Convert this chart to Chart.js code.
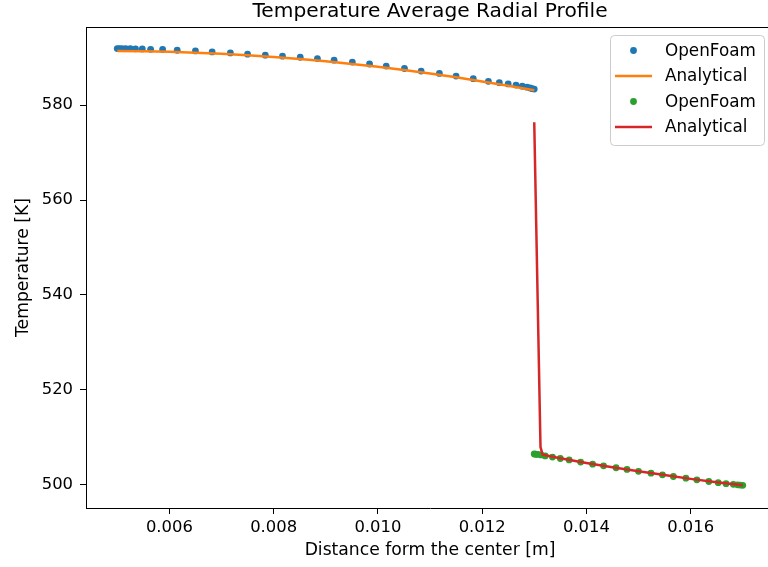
<!DOCTYPE html>
<html>
<head>
<meta charset="utf-8">
<script src="https://cdn.jsdelivr.net/npm/chart.js@4/dist/chart.umd.min.js"></script>
<style>
  html, body { margin: 0; padding: 0; background: #fff; overflow: hidden; width: 768px; height: 567px; }
  #wrap { position: absolute; left: 0; top: 0; width: 768px; height: 567px; overflow: hidden; }
  #c { position: absolute; left: 0; top: 0; }
</style>
</head>
<body>
<div id="wrap"><canvas id="c" width="780" height="567"></canvas></div>
<script>
// ---- data ----
const blueX = [0.00500, 0.00504, 0.00509, 0.00516, 0.00525, 0.00535, 0.00548, 0.00564, 0.00587, 0.00615,
               0.00650, 0.00682, 0.00717, 0.00750, 0.00784, 0.00817, 0.00851, 0.00884, 0.00916, 0.00951,
               0.00984, 0.01016, 0.01051, 0.01083, 0.01118, 0.01150, 0.01183, 0.01212, 0.01233, 0.01250,
               0.01265, 0.01277, 0.01286, 0.01292, 0.01296, 0.01300];
const blueT = [591.95, 591.95, 591.95, 591.93, 591.92, 591.90, 591.88, 591.80, 591.75, 591.60,
               591.45, 591.24, 591.03, 590.76, 590.55, 590.34, 590.12, 589.85, 589.50, 589.10,
               588.70, 588.25, 587.75, 587.20, 586.70, 586.15, 585.60, 585.05, 584.75, 584.50,
               584.25, 584.00, 583.80, 583.65, 583.50, 583.40];

const orangeX = [0.0050, 0.0055, 0.0060, 0.0065, 0.0070, 0.0075, 0.0080, 0.0085, 0.0090,
                 0.0095, 0.0100, 0.0105, 0.0110, 0.0115, 0.0120, 0.0125, 0.0130];
const orangeT = [591.43, 591.41, 591.28, 591.09, 590.84, 590.53, 590.17, 589.74, 589.26,
                 588.71, 588.10, 587.42, 586.69, 585.88, 585.02, 584.11, 583.16];

const greenX = [0.01300, 0.01303, 0.01307, 0.01313, 0.01321, 0.01335, 0.01350, 0.01367, 0.01389, 0.01412,
                0.01433, 0.01457, 0.01478, 0.01500, 0.01524, 0.01546, 0.01567, 0.01591, 0.01612, 0.01635,
                0.01653, 0.01668, 0.01682, 0.01690, 0.01695, 0.01700];
const greenT = [506.45, 506.40, 506.35, 506.25, 506.05, 505.80, 505.50, 505.20, 504.75, 504.30,
                503.95, 503.55, 503.20, 502.80, 502.40, 502.05, 501.70, 501.35, 501.00, 500.65,
                500.40, 500.20, 500.05, 499.95, 499.90, 499.85];

const redX = [0.01300, 0.01312, 0.01316, 0.0135, 0.0140, 0.0145, 0.0150, 0.0155, 0.0160, 0.0165, 0.0170];
const redT = [576.4, 507.9, 506.3, 505.55, 504.55, 503.65, 502.80, 502.00, 501.20, 500.50, 499.85];

const xTicks = [0.006, 0.008, 0.010, 0.012, 0.014, 0.016];
const yTicks = [500, 520, 540, 560, 580];
const xRange = [0.0044, 0.0176];
const yRange = [495.06, 596.5];

const titleText = 'Temperature Average Radial Profile';
const xLabel = 'Distance form the center [m]';
const yLabel = 'Temperature [K]';
const seriesNames = ['OpenFoam', 'Analytical', 'OpenFoam', 'Analytical'];

// ---- build ----
const zip = (xs, ys) => xs.map((x, i) => ({ x: x, y: ys[i] }));
const FONT = 'DejaVu Sans';

const frameAndText = {
  id: 'frameAndText',
  afterDraw(chart) {
    const ctx = chart.ctx;
    const a = chart.chartArea;
    ctx.save();
    // top spine (the right spine falls outside the cropped picture)
    ctx.strokeStyle = '#000';
    ctx.lineWidth = 1;
    ctx.beginPath();
    ctx.moveTo(a.left, a.top + 0.5);
    ctx.lineTo(a.right, a.top + 0.5);
    ctx.stroke();
    // title
    ctx.fillStyle = '#000';
    ctx.font = '20.2px "' + FONT + '"';
    ctx.textAlign = 'center';
    ctx.textBaseline = 'alphabetic';
    ctx.fillText(titleText, (a.left + a.right) / 2, 17);
    // x axis label
    ctx.font = '17.2px "' + FONT + '"';
    ctx.textBaseline = 'middle';
    ctx.fillText(xLabel, (a.left + a.right) / 2, 551);
    // legend
    const bx = 610, by = 35, bw = 154, bh = 110, r = 4;
    ctx.globalAlpha = 0.8;
    ctx.fillStyle = '#fff';
    ctx.beginPath();
    ctx.roundRect(bx, by, bw, bh, r);
    ctx.fill();
    ctx.globalAlpha = 1;
    ctx.strokeStyle = '#cccccc';
    ctx.lineWidth = 1;
    ctx.beginPath();
    ctx.roundRect(bx + 0.5, by + 0.5, bw, bh, r);
    ctx.stroke();
    const rows = [50.5, 76, 101.5, 127];
    chart.data.datasets.forEach((ds, i) => {
      const y = rows[i];
      if (ds.showLine) {
        ctx.strokeStyle = ds.borderColor;
        ctx.lineWidth = 2.5;
        ctx.beginPath();
        ctx.moveTo(615, y);
        ctx.lineTo(652, y);
        ctx.stroke();
      } else {
        ctx.fillStyle = ds.backgroundColor;
        ctx.beginPath();
        ctx.arc(633.5, y, 3.4, 0, Math.PI * 2);
        ctx.fill();
      }
      ctx.fillStyle = '#000';
      ctx.font = '16.8px "' + FONT + '"';
      ctx.textAlign = 'left';
      ctx.textBaseline = 'middle';
      ctx.fillText(ds.label, 665, y + 1);
    });
    ctx.restore();
  }
};

const pointDs = (label, xs, ys, color, order) => ({
  label, data: zip(xs, ys), showLine: false, order,
  pointRadius: 3.4, pointHoverRadius: 3.4, pointBorderWidth: 0,
  backgroundColor: color, borderColor: color
});
const lineDs = (label, xs, ys, color, order) => ({
  label, data: zip(xs, ys), showLine: true, order,
  pointRadius: 0, borderWidth: 2.5, tension: 0,
  borderColor: color, backgroundColor: color, fill: false
});

new Chart(document.getElementById('c'), {
  type: 'scatter',
  data: {
    datasets: [
      pointDs(seriesNames[0], blueX, blueT, '#1f77b4', 4),
      lineDs(seriesNames[1], orangeX, orangeT, '#ff7f0e', 3),
      pointDs(seriesNames[2], greenX, greenT, '#2ca02c', 2),
      lineDs(seriesNames[3], redX, redT, '#d62728', 1)
    ]
  },
  options: {
    responsive: false,
    animation: false,
    events: [],
    layout: { autoPadding: false, padding: { top: 27, left: 0, right: 6, bottom: 0 } },
    plugins: { legend: { display: false }, title: { display: false }, tooltip: { enabled: false } },
    scales: {
      x: {
        type: 'linear', min: xRange[0], max: xRange[1],
        afterFit: s => { s.height = 59; },
        afterBuildTicks: s => { s.ticks = xTicks.map(v => ({ value: v })); },
        ticks: {
          color: '#000', padding: 4, maxRotation: 0, autoSkip: false,
          font: { family: FONT, size: 16.4 },
          callback: v => Number(v).toFixed(3)
        },
        grid: { drawOnChartArea: false, drawTicks: true, tickLength: 6, tickColor: '#000', tickWidth: 1 },
        border: { display: true, color: '#000', width: 1 },
        title: { display: false }
      },
      y: {
        type: 'linear', min: yRange[0], max: yRange[1],
        afterFit: s => { s.width = 86; },
        afterBuildTicks: s => { s.ticks = yTicks.map(v => ({ value: v })); },
        ticks: {
          color: '#000', padding: 7, autoSkip: false,
          font: { family: FONT, size: 16.4 },
          callback: v => String(v)
        },
        grid: { drawOnChartArea: false, drawTicks: true, tickLength: 6, tickColor: '#000', tickWidth: 1 },
        border: { display: true, color: '#000', width: 1 },
        title: { display: true, text: yLabel, color: '#000', font: { family: FONT, size: 17.2 }, padding: { top: 13, bottom: 0 } }
      }
    }
  },
  plugins: [frameAndText]
});
</script>
</body>
</html>
